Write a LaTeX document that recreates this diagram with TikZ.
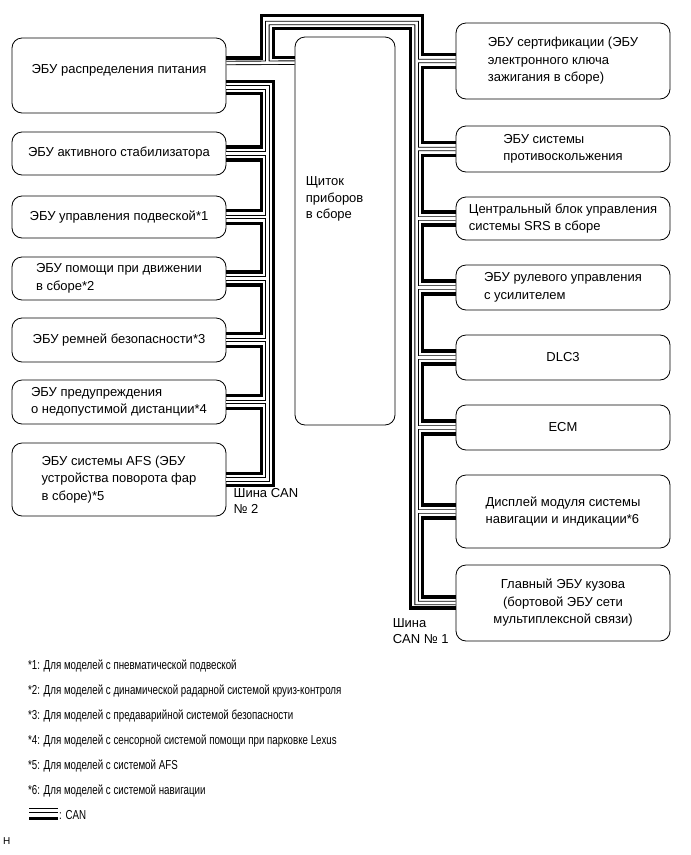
\documentclass[tikz,border=0pt]{standalone}
\usepackage{fontspec}
\setmainfont{Liberation Sans}
\newfontfamily\narrowfont[FakeStretch=0.75]{Liberation Sans}
\usetikzlibrary{positioning, calc}
\tikzset{
  ecu/.style={rectangle, rounded corners=10pt, draw=black, line width=0.8pt, minimum width=214pt, inner sep=0pt, align=left, font=\fontsize{13}{17.5}\selectfont},
  lbl/.style={anchor=north west, align=left, inner sep=0pt, font=\fontsize{13}{16.5}\selectfont},
  note/.style={anchor=base west, inner sep=0pt, font=\narrowfont\fontsize{13}{15}\selectfont},
  canh/.style={line width=3.5pt},
  canl/.style={double, line width=0.9pt, double distance=2.6pt}
}
\begin{document}
\begin{tikzpicture}[x=1pt, y=-1pt]
\useasboundingbox (0,0) rectangle (691,855);
% блоки слева (CAN No 2)
\node (pwr) [ecu, minimum height=75pt] at (119,75.5) {ЭБУ распределения питания\rule[-14pt]{0pt}{14pt}};
\node (stab) [ecu, minimum height=43pt] at (119,153.5) {ЭБУ активного стабилизатора};
\node (susp) [ecu, minimum height=42pt] at (119,217) {ЭБУ управления подвеской*1};
\node (drive) [ecu, minimum height=43pt] at (119,278.5) {ЭБУ помощи при движении\\в сборе*2};
\node (belt) [ecu, minimum height=44pt] at (119,340) {ЭБУ ремней безопасности*3};
\node (dist) [ecu, minimum height=44pt] at (119,402) {ЭБУ предупреждения\\о недопустимой дистанции*4};
\node (afs) [ecu, minimum height=73pt] at (119,479.5) {ЭБУ системы AFS (ЭБУ\\устройства поворота фар\\в сборе)*5};
% щиток приборов
\node (meter) [ecu, minimum width=100pt, minimum height=388pt] at (345,231) {};
\node (metertxt) [lbl] at ($(meter.north west)+(11,140)$) {Щиток\\приборов\\в сборе};
% блоки справа (CAN No 1)
\node (cert) [ecu, minimum height=76pt] at (563,61) {ЭБУ сертификации (ЭБУ\\электронного ключа\\зажигания в сборе)};
\node (skid) [ecu, minimum height=46pt] at (563,149) {ЭБУ системы\\противоскольжения};
\node (srs) [ecu, minimum height=43pt] at (563,218.5) {Центральный блок управления\\системы SRS в сборе};
\node (eps) [ecu, minimum height=45pt] at (563,287.5) {ЭБУ рулевого управления\\с усилителем};
\node (dlc) [ecu, minimum height=45pt] at (563,357.5) {DLC3};
\node (ecm) [ecu, minimum height=45pt] at (563,427.5) {ECM};
\node (disp) [ecu, minimum height=73pt] at (563,511.5) {Дисплей модуля системы\\навигации и индикации*6};
\node (body) [ecu, minimum height=76pt, align=center] at (563,603) {Главный ЭБУ кузова\\(бортовой ЭБУ сети\\мультиплексной связи)};

% верхние петли
\draw [canh] ($(pwr.east)+(0,-17.5)$) -| ($(pwr.north east)+(35,-22)$) -| ($(cert.west)+(-33,-6.5)$) -- ($(cert.west)+(0,-6.5)$);
\draw [canh] ($(meter.north west)+(0,21)$) -| ($(pwr.north east)+(47,-9)$) -| ($(body.west)+(-45,5)$) -- ($(body.west)+(0,5)$);
\draw [canl] ($(pwr.east)+(0,-12.5)$) -- ($(meter.north west)+(0,26)$)
  ($(pwr.east)+(41,-12.5)$) |- ($(cert.west)+(-39,-38)$) -- ($(body.west)+(-39,0)$) -- (body.west)
  ($(cert.west)+(-39,0)$) -- (cert.west)
  ($(skid.west)+(-39,0)$) -- (skid.west)
  ($(srs.west)+(-39,0)$) -- (srs.west)
  ($(eps.west)+(-39,0)$) -- (eps.west)
  ($(dlc.west)+(-39,0)$) -- (dlc.west)
  ($(ecm.west)+(-39,0)$) -- (ecm.west)
  ($(disp.west)+(-39,0)$) -- (disp.west);

% шина справа
\draw [canh] ($(cert.west)+(0,6.5)$) -| ($(skid.west)+(-33,-6.5)$) -- ($(skid.west)+(0,-6.5)$);
\draw [canh] ($(skid.west)+(0,6.5)$) -| ($(srs.west)+(-33,-6.5)$) -- ($(srs.west)+(0,-6.5)$);
\draw [canh] ($(srs.west)+(0,6.5)$) -| ($(eps.west)+(-33,-6.5)$) -- ($(eps.west)+(0,-6.5)$);
\draw [canh] ($(eps.west)+(0,6.5)$) -| ($(dlc.west)+(-33,-6.5)$) -- ($(dlc.west)+(0,-6.5)$);
\draw [canh] ($(dlc.west)+(0,6.5)$) -| ($(ecm.west)+(-33,-6.5)$) -- ($(ecm.west)+(0,-6.5)$);
\draw [canh] ($(ecm.west)+(0,6.5)$) -| ($(disp.west)+(-33,-6.5)$) -- ($(disp.west)+(0,-6.5)$);
\draw [canh] ($(disp.west)+(0,6.5)$) -| ($(body.west)+(-33,-6)$) -- ($(body.west)+(0,-6)$);

% шина слева
\draw [canh] ($(pwr.east)+(0,6)$) -| ($(afs.east)+(47,6)$) -- ($(afs.east)+(0,6)$);
\draw [canl] ($(pwr.east)+(0,12)$) -| ($(afs.east)+(41,0)$) -- (afs.east)
  ($(stab.east)+(41,0)$) -- (stab.east)
  ($(susp.east)+(41,0)$) -- (susp.east)
  ($(drive.east)+(41,0)$) -- (drive.east)
  ($(belt.east)+(41,0)$) -- (belt.east)
  ($(dist.east)+(41,0)$) -- (dist.east);
\draw [canh] ($(pwr.east)+(0,18)$) -| ($(stab.east)+(35,-6.5)$) -- ($(stab.east)+(0,-6.5)$);
\draw [canh] ($(stab.east)+(0,6.5)$) -| ($(susp.east)+(35,-6.5)$) -- ($(susp.east)+(0,-6.5)$);
\draw [canh] ($(susp.east)+(0,6.5)$) -| ($(drive.east)+(35,-6.5)$) -- ($(drive.east)+(0,-6.5)$);
\draw [canh] ($(drive.east)+(0,6.5)$) -| ($(belt.east)+(35,-6.5)$) -- ($(belt.east)+(0,-6.5)$);
\draw [canh] ($(belt.east)+(0,6.5)$) -| ($(dist.east)+(35,-6.5)$) -- ($(dist.east)+(0,-6.5)$);
\draw [canh] ($(dist.east)+(0,6.5)$) -| ($(afs.east)+(35,-6)$) -- ($(afs.east)+(0,-6)$);

% подписи шин
\node (can2) [lbl] at ($(afs.east)+(7,8.5)$) {Шина CAN\\№ 2};
\node (can1) [lbl] at ($(body.west)+(-63,15)$) {Шина\\CAN № 1};

% примечания
\node (n1) [note] at (28,669) {*1: Для моделей с пневматической подвеской};
\node (n2) [note] at (28,694) {*2: Для моделей с динамической радарной системой круиз-контроля};
\node (n3) [note] at (28,719) {*3: Для моделей с предаварийной системой безопасности};
\node (n4) [note] at (28,744.5) {*4: Для моделей с сенсорной системой помощи при парковке Lexus};
\node (n5) [note] at (28,769.5) {*5: Для моделей с системой AFS};
\node (n6) [note] at (28,794) {*6: Для моделей с системой навигации};
\node (lgd) [note] at (59,819) {: CAN};
\draw [canl] ($(lgd.base west)+(-30,-8.5)$) -- ($(lgd.base west)+(-1,-8.5)$);
\draw [canh] ($(lgd.base west)+(-30,-0.5)$) -- ($(lgd.base west)+(-1,-0.5)$);
\node (hmark) [anchor=base west, inner sep=0pt, font=\fontsize{10}{11}\selectfont] at (3,844) {H};
\end{tikzpicture}
\end{document}
